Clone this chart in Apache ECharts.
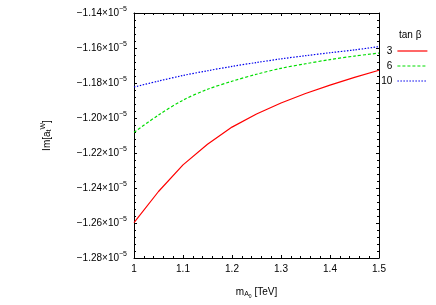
<!DOCTYPE html>
<html><head><meta charset="utf-8">
<script src="https://cdn.jsdelivr.net/npm/echarts@6/dist/echarts.min.js"></script>
<style>html,body{margin:0;padding:0;background:#fff}#c{width:436px;height:305px}</style>
</head><body><div id="c"></div>
<script>
const mA = [1.0,1.05,1.1,1.15,1.2,1.25,1.3,1.35,1.4,1.45,1.5];
const tan3 = [-1.2598,-1.2420,-1.2268,-1.2150,-1.2052,-1.1977,-1.1914,-1.1860,-1.1812,-1.1768,-1.1727];
const tan6 = [-1.2082,-1.1983,-1.1898,-1.1836,-1.1790,-1.1750,-1.1716,-1.1690,-1.1666,-1.1646,-1.1629];
const tan10 = [-1.1823,-1.1789,-1.1757,-1.1730,-1.1705,-1.1683,-1.1662,-1.1644,-1.1627,-1.1611,-1.1592];
const seriesNames = ['3','6','10'];
const yTicks = [-1.28,-1.26,-1.24,-1.22,-1.20,-1.18,-1.16,-1.14];
const xTicks = [1,1.1,1.2,1.3,1.4,1.5];

const FONT = 'Liberation Sans';
const toPairs = arr => mA.map((x,i)=>[x, arr[i]*1e-5]);
const chart = echarts.init(document.getElementById('c'));
function baseX(pos, show){
  return {type:'value', position:pos, min:1, max:1.5, interval:0.1,
    axisLine:{show:true,onZero:false,lineStyle:{color:'#000',width:1}},
    axisTick:{show:true,inside:true,length:3,lineStyle:{color:'#000'}},
    minorTick:{show:true,splitNumber:5,length:2,lineStyle:{color:'#000'}},
    splitLine:{show:false},
    axisLabel:{show:show,color:'#000',fontFamily:FONT,fontSize:10,margin:6,
      formatter:v=>{const t=xTicks.find(x=>Math.abs(x-v)<1e-9);return t===undefined?'':String(t);}}
  };
}
function baseY(pos, show){
  return {type:'value', position:pos, min:-1.28e-5, max:-1.14e-5, interval:0.02e-5,
    axisLine:{show:true,onZero:false,lineStyle:{color:'#000',width:1}},
    axisTick:{show:true,inside:true,length:3,lineStyle:{color:'#000'}},
    minorTick:{show:true,splitNumber:5,length:2,lineStyle:{color:'#000'}},
    splitLine:{show:false},
    axisLabel:{show:show,color:'#000',fontFamily:FONT,fontSize:10,margin:7,
      formatter:v=>{
        const t=yTicks.find(y=>Math.abs(y*1e-5-v)<1e-12);
        if(t===undefined) return '';
        return '{m|\u2212'+Math.abs(t).toFixed(2)+'\u00d710}{s|\u22125}';
      },
      rich:{m:{fontFamily:FONT,fontSize:10,color:'#000'},
            s:{fontFamily:FONT,fontSize:7,color:'#000',padding:[0,0,8,0]}}}
  };
}
const option = {
  animation:false,
  backgroundColor:'#fff',
  grid:{left:134,right:57,top:13,bottom:47},
  xAxis:[Object.assign(baseX('bottom',true),{
      name:'{m|m}{a|A}{z|0}{m| [TeV]}', nameLocation:'middle', nameGap:27,
      nameTextStyle:{rich:{
        m:{fontFamily:FONT,fontSize:10,color:'#000'},
        a:{fontFamily:FONT,fontSize:7,color:'#000',padding:[5,0,0,0]},
        z:{fontFamily:FONT,fontSize:5,color:'#000',padding:[9,0,0,0]}}}
    }), baseX('top',false)],
  yAxis:[Object.assign(baseY('left',true),{
      name:'{m|Im[a}{t|t}{w|W}{m|]}', nameLocation:'middle', nameGap:80, nameRotate:90,
      nameTextStyle:{rich:{
        m:{fontFamily:FONT,fontSize:10,color:'#000'},
        t:{fontFamily:FONT,fontSize:7,color:'#000',padding:[5,0,0,0]},
        w:{fontFamily:FONT,fontSize:7,color:'#000',padding:[0,0,7,0]}}}
    }), baseY('right',false)],
  legend:{
    right:3, top:41, orient:'vertical', align:'right', itemWidth:30, itemHeight:10, itemGap:5,
    textStyle:{fontFamily:FONT,fontSize:10,color:'#000'},
    itemStyle:{opacity:0},
    lineStyle:{width:1.2},
    data:seriesNames
  },
  graphic:[{type:'text',left:399,top:30,style:{text:'tan \u03b2',fontFamily:FONT,fontSize:10,fill:'#000'}}],
  series:[
    {name:seriesNames[0],type:'line',data:toPairs(tan3),showSymbol:false,symbol:'none',
      lineStyle:{color:'#ff0000',width:1.2,type:'solid'},itemStyle:{color:'#ff0000'}},
    {name:seriesNames[1],type:'line',data:toPairs(tan6),showSymbol:false,symbol:'none',smooth:0.3,
      lineStyle:{color:'#00dd00',width:1.2,type:[3,2]},itemStyle:{color:'#00dd00'}},
    {name:seriesNames[2],type:'line',data:toPairs(tan10),showSymbol:false,symbol:'none',smooth:0.3,
      lineStyle:{color:'#0000ee',width:1.2,type:[1.5,1.5]},itemStyle:{color:'#0000ee'}}
  ]
};
chart.setOption(option);
</script></body></html>
